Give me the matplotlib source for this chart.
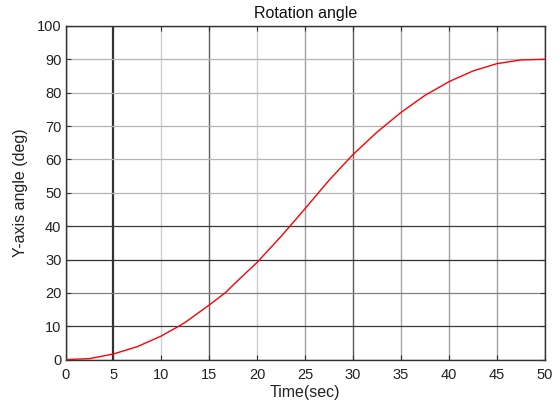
import matplotlib
matplotlib.use("Agg")
import matplotlib.pyplot as plt

# rotation angle history (s, deg)
time_s = [0, 2.5, 5, 7.5, 10, 11.8, 12.5, 15, 16.65, 17.5, 20, 22.5,
          23.5, 25, 27.5, 30, 32.5, 35, 37.5, 40, 42.5,
          45, 47.5, 50]
angle_deg = [0, 0.3, 1.7, 3.9, 7.1, 10.0, 11.2, 16.4, 20.0, 22.4, 29.2, 37.0,
             40.3, 45.3, 53.8, 61.5, 68.2, 74.1, 79.2, 83.3, 86.5,
             88.7, 89.8, 90.0]

x_ticks = list(range(0, 51, 5))
y_ticks = list(range(0, 101, 10))

# grid shades per tick line
x_grid_colors = ["#404040", "#333333", "#d0d0d0", "#606060", "#cccccc", "#a0a0a0",
                 "#5a5a5a", "#a8a8a8", "#a0a0a0", "#a0a0a0", "#404040"]
y_grid_colors = ["#404040", "#3a3a3a", "#808080", "#303030", "#3a3a3a", "#b4b4b4",
                 "#b4b4b4", "#b4b4b4", "#b4b4b4", "#b4b4b4", "#404040"]
x_grid_widths = [1, 1.6, 1, 1, 1, 1, 1, 1, 1, 1, 1]

plt.rcParams["font.family"] = ["Liberation Sans", "DejaVu Sans"]

fig = plt.figure(figsize=(5.6, 4.05), dpi=100)
ax = fig.add_axes([0.117, 0.112, 0.856, 0.824])

ax.plot(time_s, angle_deg, color="red", linewidth=1.0, zorder=3)

ax.set_xlim(0, 50)
ax.set_ylim(0, 100)
ax.set_xticks(x_ticks)
ax.set_yticks(y_ticks)
ax.grid(True, linewidth=0.9)
for line, c, w in zip(ax.xaxis.get_gridlines(), x_grid_colors, x_grid_widths):
    line.set_color(c)
    line.set_linewidth(w)
for line, c in zip(ax.yaxis.get_gridlines(), y_grid_colors):
    line.set_color(c)

ax.tick_params(direction="in", length=3.5, width=0.8, labelsize=10.5,
               top=True, right=True, colors="#333333", labelcolor="#222222")
ax.tick_params(axis="x", pad=6)
ax.tick_params(axis="y", pad=3)
for sp in ax.spines.values():
    sp.set_color("#333333")
    sp.set_linewidth(1.0)

ax.set_title("Rotation angle", fontsize=11.5, color="#111111", pad=6)
ax.set_xlabel("Time(sec)", fontsize=11.5, color="#222222", labelpad=2)
ax.set_ylabel("Y-axis angle (deg)", fontsize=11.5, color="#222222", labelpad=6)

fig.savefig("out.png", dpi=100)
